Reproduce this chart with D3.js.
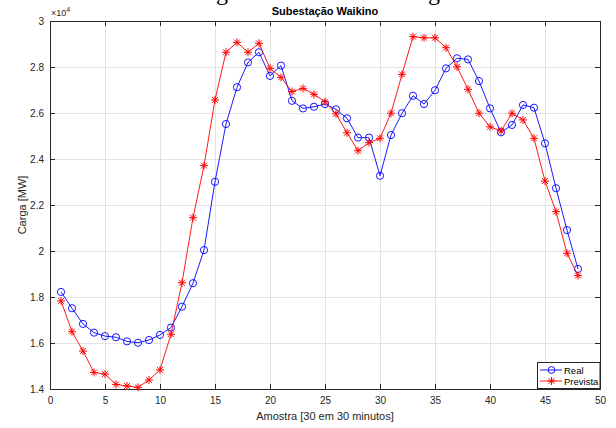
<!DOCTYPE html>
<html>
<head>
<meta charset="utf-8">
<script src="https://cdn.jsdelivr.net/npm/d3@7"></script>
<style>
  html, body { margin: 0; padding: 0; background: #fff; }
  svg { display: block; font-family: "Liberation Sans", Arial, sans-serif; }
</style>
</head>
<body>
<svg id="chart" width="616" height="428"></svg>
<script>
// Sample index (30-minute intervals)
const amostra = d3.range(1, 49);

// Measured load [MW]
const real = [
  18220, 17510, 16830, 16450, 16300, 16250, 16070, 16010, 16130, 16350,
  16670, 17580, 18600, 20040, 23010, 25520, 27120, 28200, 28640, 27610,
  28060, 26530, 26200, 26270, 26390, 26160, 25770, 24930, 24930, 23270,
  25040, 25990, 26750, 26390, 26990, 27940, 28380, 28330, 27390, 26200,
  25160, 25480, 26350, 26230, 24680, 22730, 20910, 19220
];

// Forecast load [MW]
const prevista = [
  17830, 16490, 15650, 14720, 14650, 14200, 14130, 14070, 14390, 14830,
  16380, 18620, 21450, 23710, 26570, 28640, 29070, 28640, 29030, 27940,
  27550, 26930, 27070, 26810, 26490, 25960, 25140, 24360, 24710, 24900,
  25990, 27680, 29320, 29270, 29270, 28840, 28010, 27030, 25990, 25400,
  25220, 25990, 25700, 24900, 23040, 21710, 19900, 18930
];

const xTicks = [0, 5, 10, 15, 20, 25, 30, 35, 40, 45, 50];
const yTickValues = [14000, 16000, 18000, 20000, 22000, 24000, 26000, 28000, 30000];
const yTickLabels = ["1.4", "1.6", "1.8", "2", "2.2", "2.4", "2.6", "2.8", "3"];

const title = "Subestação Waikino";
const xLabel = "Amostra [30 em 30 minutos]";
const yLabel = "Carga [MW]";
const seriesNames = ["Real", "Prevista"];

const svg = d3.select("#chart");
const L = 50, R = 600, T = 21, B = 389;
const x = d3.scaleLinear().domain([0, 50]).range([L, R]);
const y = d3.scaleLinear().domain([14000, 30000]).range([B, T]);

const axisColor = "#262626";
const gridColor = "#e3e3e3";

// Heading line of the surrounding page; only its descenders reach the frame
svg.append("g")
  .attr("font-family", "'Liberation Serif', 'Times New Roman', serif")
  .attr("font-size", 24)
  .attr("fill", "#000")
  .selectAll("text")
  .data([{ t: "g", x: 216 }, { t: "g", x: 428 }])
  .join("text")
  .attr("x", d => d.x)
  .attr("y", 0)
  .text(d => d.t);

// Grid
const grid = svg.append("g").attr("stroke", gridColor).attr("stroke-width", 1);
grid.selectAll(".gx").data(xTicks.slice(1, -1)).join("line")
  .attr("x1", d => Math.round(x(d)) + 0.5).attr("x2", d => Math.round(x(d)) + 0.5)
  .attr("y1", T).attr("y2", B);
grid.selectAll(".gy").data(yTickValues.slice(1, -1)).join("line")
  .attr("y1", d => Math.round(y(d)) + 0.5).attr("y2", d => Math.round(y(d)) + 0.5)
  .attr("x1", L).attr("x2", R);

// Axes (inward ticks, box on)
function styleAxis(g) {
  g.select(".domain").attr("stroke", axisColor);
  g.selectAll(".tick line").attr("stroke", axisColor);
  g.selectAll(".tick text").attr("fill", axisColor).attr("font-size", 10)
    .attr("font-family", "'Liberation Sans', Arial, sans-serif");
}
svg.append("g").attr("transform", `translate(0,${B})`)
  .call(d3.axisBottom(x).tickValues(xTicks).tickSizeInner(-5).tickSizeOuter(0).tickPadding(8))
  .call(styleAxis);
svg.append("g").attr("transform", `translate(0,${T})`)
  .call(d3.axisTop(x).tickValues(xTicks).tickSizeInner(-5).tickSizeOuter(0).tickFormat(""))
  .call(styleAxis);
svg.append("g").attr("transform", `translate(${L},0)`)
  .call(d3.axisLeft(y).tickValues(yTickValues).tickSizeInner(-5).tickSizeOuter(0).tickPadding(6)
    .tickFormat((d, i) => yTickLabels[i]))
  .call(styleAxis);
svg.append("g").attr("transform", `translate(${R},0)`)
  .call(d3.axisRight(y).tickValues(yTickValues).tickSizeInner(-5).tickSizeOuter(0).tickFormat(""))
  .call(styleAxis);

// Exponent marker
const expo = svg.append("text").attr("x", 51).attr("y", 16)
  .attr("font-size", 9).attr("fill", axisColor);
expo.append("tspan").text("\u00d710");
expo.append("tspan").attr("dy", -4).attr("font-size", 7).text("4");

// Title and axis labels
svg.append("text").attr("x", (L + R) / 2).attr("y", 15).attr("text-anchor", "middle")
  .attr("font-size", 11).attr("font-weight", "bold").attr("fill", "#000").text(title);
svg.append("text").attr("x", (L + R) / 2).attr("y", 420).attr("text-anchor", "middle")
  .attr("font-size", 11).attr("fill", axisColor).text(xLabel);
svg.append("text").attr("transform", `translate(26,${(T + B) / 2}) rotate(-90)`)
  .attr("text-anchor", "middle").attr("font-size", 11).attr("fill", axisColor).text(yLabel);

// Series
const line = d3.line().x((d, i) => x(amostra[i])).y(d => y(d));
const star = "M-4,0H4M0,-4V4M-2.9,-2.9L2.9,2.9M-2.9,2.9L2.9,-2.9";

svg.append("path").datum(real).attr("d", line)
  .attr("fill", "none").attr("stroke", "#0000ff").attr("stroke-width", 0.9);
svg.append("g").selectAll("circle").data(real).join("circle")
  .attr("cx", (d, i) => x(amostra[i])).attr("cy", d => y(d)).attr("r", 3.6)
  .attr("fill", "none").attr("stroke", "#0000ff").attr("stroke-width", 0.9);

svg.append("path").datum(prevista).attr("d", line)
  .attr("fill", "none").attr("stroke", "#ff0000").attr("stroke-width", 0.9);
svg.append("g").selectAll("path").data(prevista).join("path")
  .attr("transform", (d, i) => `translate(${x(amostra[i])},${y(d)})`)
  .attr("d", star).attr("fill", "none").attr("stroke", "#ff0000").attr("stroke-width", 1);

// Legend
const lg = svg.append("g");
lg.append("rect").attr("x", 537.5).attr("y", 362.5).attr("width", 62.5).attr("height", 26)
  .attr("fill", "#fff").attr("stroke", axisColor).attr("stroke-width", 1);
const rows = [
  { name: seriesNames[0], color: "#0000ff", marker: "circle", yy: 370 },
  { name: seriesNames[1], color: "#ff0000", marker: "star", yy: 381 }
];
rows.forEach(r => {
  lg.append("line").attr("x1", 540).attr("x2", 562).attr("y1", r.yy).attr("y2", r.yy)
    .attr("stroke", r.color).attr("stroke-width", 0.9);
  if (r.marker === "circle") {
    lg.append("circle").attr("cx", 551.5).attr("cy", r.yy).attr("r", 3.4)
      .attr("fill", "none").attr("stroke", r.color).attr("stroke-width", 0.9);
  } else {
    lg.append("path").attr("transform", `translate(551.5,${r.yy})`).attr("d", star)
      .attr("fill", "none").attr("stroke", r.color).attr("stroke-width", 1);
  }
  lg.append("text").attr("x", 564).attr("y", r.yy + 3.5).attr("font-size", 9.5)
    .attr("fill", "#000").text(r.name);
});
</script>
</body>
</html>
